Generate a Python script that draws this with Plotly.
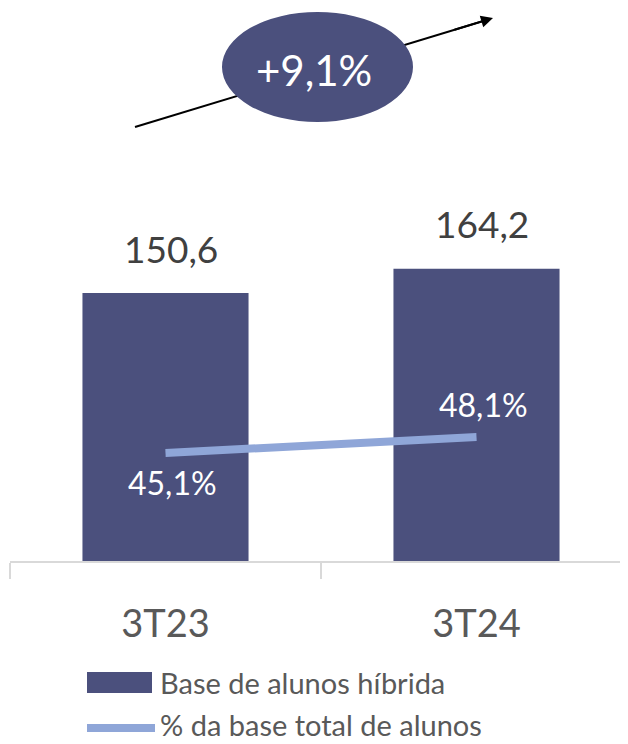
import plotly.graph_objects as go

# page body keeps an 8px margin, so the figure is 8px smaller on each side
OFF = 8
W, H = 628 - OFF, 744 - OFF

periods = ["3T23", "3T24"]
hybrid_base = [150.6, 164.2]
share_total = [45.1, 48.1]
bar_labels = ["150,6", "164,2"]
share_labels = ["45,1%", "48,1%"]
growth_label = "+9,1%"
legend_names = ["Base de alunos híbrida", "% da base total de alunos"]

BAR = "#4B507D"
LINE = "#8FA6D8"
DARK = "#404040"
GREY = "#595959"
FONT = "Lato, Open Sans, sans-serif"


def px(x):
    return (x - OFF) / W


def py(y):
    return 1 - (y - OFF) / H


fig = go.Figure()

fig.add_trace(
    go.Bar(
        x=periods,
        y=hybrid_base,
        name=legend_names[0],
        marker=dict(color=BAR, line=dict(width=0)),
        showlegend=False,
    )
)
fig.add_trace(
    go.Scatter(
        x=periods,
        y=share_total,
        name=legend_names[1],
        mode="lines",
        line=dict(color=LINE, width=8),
        yaxis="y2",
        showlegend=False,
    )
)

annotations = []
for cat, v, lab in zip(periods, hybrid_base, bar_labels):
    annotations.append(
        dict(x=cat, y=v, xref="x", yref="y", text=lab, showarrow=False,
             xanchor="center", yanchor="middle", yshift=45, xshift=5,
             font=dict(size=37, color=DARK, family=FONT))
    )
for cat, v, lab, shift in zip(periods, share_total, share_labels, [-29, 33]):
    annotations.append(
        dict(x=cat, y=v, xref="x", yref="y2", text=lab, showarrow=False,
             xanchor="center", yanchor="middle", yshift=shift, xshift=7,
             font=dict(size=32, color="white", family=FONT))
    )

# growth bubble: arrow head + label
annotations.append(
    dict(x=px(493), y=py(18), xref="paper", yref="paper", ax=-40, ay=12.2,
         axref="pixel", ayref="pixel", showarrow=True, arrowhead=2,
         arrowsize=1.2, arrowwidth=2, arrowcolor="black", text="")
)
annotations.append(
    dict(x=px(314), y=py(70), xref="paper", yref="paper", text=growth_label,
         showarrow=False, xanchor="center", yanchor="middle",
         font=dict(size=42, color="white", family=FONT))
)

# legend
for name, yy in zip(legend_names, [682, 724]):
    annotations.append(
        dict(x=px(159), y=py(yy), xref="paper", yref="paper", text=name,
             showarrow=False, xanchor="left", yanchor="middle", borderpad=0,
             font=dict(size=29, color=GREY, family=FONT))
    )

shapes = [
    dict(type="line", xref="paper", yref="paper", x0=px(135), y0=py(127),
         x1=px(490), y1=py(19), line=dict(color="black", width=2)),
    dict(type="circle", xref="paper", yref="paper", x0=px(222), y0=py(122),
         x1=px(413), y1=py(12), fillcolor=BAR, line=dict(width=0)),
    dict(type="rect", xref="paper", yref="paper", x0=px(87), y0=py(693),
         x1=px(152), y1=py(672), fillcolor=BAR, line=dict(width=0)),
    dict(type="line", xref="paper", yref="paper", x0=px(87), y0=py(728),
         x1=px(155), y1=py(728), line=dict(color=LINE, width=8)),
]

fig.update_layout(
    width=W,
    height=H,
    margin=dict(l=0, r=0, t=0, b=0),
    paper_bgcolor="white",
    plot_bgcolor="white",
    bargap=0.466,
    font=dict(family=FONT, color=GREY),
    showlegend=False,
    xaxis=dict(
        domain=[px(10), 1],
        range=[-0.5, 1.5 - 4 / 311],
        showline=True,
        linecolor="#D9D9D9",
        linewidth=2,
        ticks="outside",
        tickson="boundaries",
        ticklen=16,
        tickcolor="#D9D9D9",
        tickwidth=2,
        ticklabelstandoff=28,
        tickfont=dict(size=38, color=GREY, family=FONT),
        showgrid=False,
        zeroline=False,
    ),
    yaxis=dict(
        domain=[py(561), 1],
        range=[0, (561 - OFF) / (268 / 150.6)],
        visible=False,
    ),
    yaxis2=dict(
        domain=[py(561), 1],
        range=[24.85, 24.85 + (561 - OFF) / (16 / 3)],
        overlaying="y",
        visible=False,
    ),
    annotations=annotations,
    shapes=shapes,
)

fig.write_html("out.html")
